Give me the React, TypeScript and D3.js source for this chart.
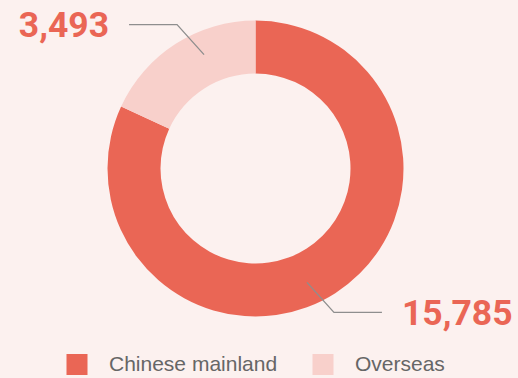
import React from "react";
import * as d3 from "d3";

// Revenue split by region
const regions = ["Chinese mainland", "Overseas"];
const values = [15785, 3493];
const colors = ["#EA6655", "#F8D0CB"];

const W = 518;
const H = 378;
const cx = 255.5;
const cy = 168.5;
const outerR = 148;
const innerR = 95;
const anchorR = 125;

export default function App() {
  const data = regions.map((name, i) => ({ name, value: values[i], color: colors[i] }));
  const pie = d3
    .pie<{ name: string; value: number; color: string }>()
    .sort(null)
    .value((d) => d.value);
  const arcs = pie(data);
  const arc = d3
    .arc<d3.PieArcDatum<{ name: string; value: number; color: string }>>()
    .innerRadius(innerR)
    .outerRadius(outerR);
  const fmt = d3.format(",");

  // legend layout
  const legendX = [66.5, 312.5];
  const legendY = 354;

  return (
    <svg
      width={W}
      height={H}
      style={{ position: "absolute", left: 0, top: 0, display: "block" }}
    >
      <rect x={0} y={0} width={W} height={H} fill="#FCF1EF" />
      <g transform={`translate(${cx},${cy})`}>
        {arcs.map((a) => (
          <path key={a.data.name} d={arc(a) ?? ""} fill={a.data.color} />
        ))}
      </g>
      {arcs.map((a) => {
        const mid = (a.startAngle + a.endAngle) / 2 + 0.145;
        const sx = cx + anchorR * Math.sin(mid);
        const sy = cy - anchorR * Math.cos(mid);
        const right = Math.sin(mid) > 0;
        const dir = right ? 1 : -1;
        const ex = sx + dir * 27;
        const ey = sy + (right ? 30 : -30);
        const hx = ex + dir * 48;
        const tx = hx + dir * 20;
        return (
          <g key={"lbl-" + a.data.name}>
            <polyline
              points={`${sx},${sy} ${ex},${ey} ${hx},${ey}`}
              fill="none"
              stroke="#8E8E8E"
              strokeWidth={1.3}
            />
            <text
              x={tx}
              y={ey + 12.5}
              textAnchor={right ? "start" : "end"}
              fontFamily="Roboto, 'DejaVu Sans', sans-serif"
              fontWeight={700}
              fontSize={35.5}
              fill="#EA6655"
            >
              {fmt(a.data.value)}
            </text>
          </g>
        );
      })}
      {data.map((d, i) => (
        <g key={"lg-" + d.name}>
          <rect x={legendX[i]} y={legendY} width={21} height={21} fill={d.color} />
          <text
            x={legendX[i] + 42.5}
            y={371}
            fontFamily="'Liberation Sans', Arial, sans-serif"
            fontSize={21}
            fill="#666666"
          >
            {d.name}
          </text>
        </g>
      ))}
    </svg>
  );
}
